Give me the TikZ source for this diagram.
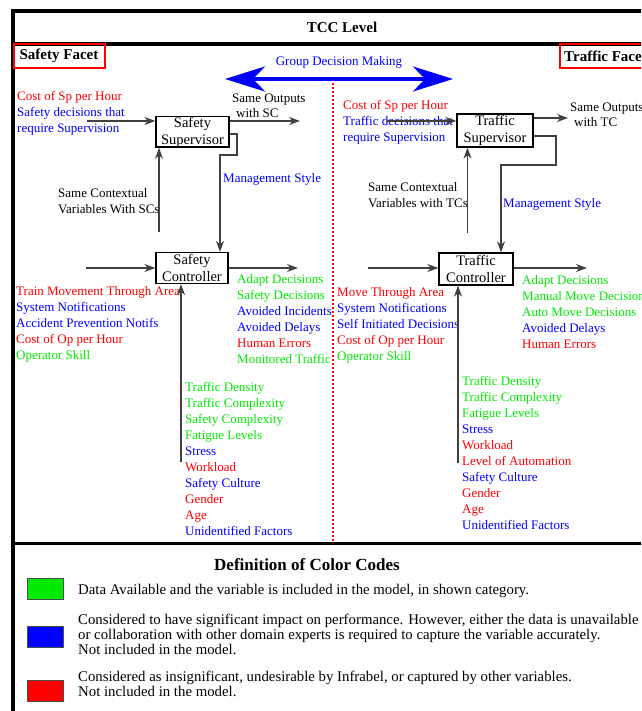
\documentclass[tikz,border=0pt]{standalone}
\usepackage{fontspec}
\setmainfont{Liberation Serif}
\usetikzlibrary{arrows.meta}
\definecolor{cgreen}{RGB}{0,235,0}
\definecolor{cblue}{RGB}{0,0,255}
\definecolor{cred}{RGB}{255,0,0}
\newcommand{\gr}[1]{\textcolor{cgreen}{#1}}
\newcommand{\bl}[1]{\textcolor{cblue}{#1}}
\newcommand{\rd}[1]{\textcolor{cred}{#1}}
\tikzset{bigtip/.tip={Stealth[length=40pt,width=25pt,inset=12pt]}}
\begin{document}
\begin{tikzpicture}[x=1pt,y=-1pt,
  frame/.style={line width=3.5pt,line join=miter},
  txt/.style={inner sep=0pt,anchor=north west,align=left,font=\fontsize{13}{16}\selectfont},
  legtxt/.style={inner sep=0pt,anchor=north west,align=left,font=\fontsize{14.8}{15}\selectfont},
  box/.style={draw,line width=1.3pt,inner sep=0pt,align=center,font=\fontsize{14.5}{17}\selectfont},
  arr/.style={draw=black!75,line width=1.1pt,-{Stealth[length=11pt,width=8pt,inset=3.5pt]}},
  facet/.style={draw=cred,line width=2pt,inner sep=0pt,anchor=north west,minimum width=91pt,minimum height=24pt,font=\fontsize{15}{17}\selectfont\bfseries},
  swatch/.style={draw=black!70,line width=0.6pt,anchor=north west,minimum width=36pt,minimum height=21pt,inner sep=0pt}
]
\useasboundingbox (0,0) rectangle (641,711);
\clip (0,0) rectangle (641,711);

% outer frame and dividers
\draw[frame] (13,760) |- (700,11);
\draw[frame] (13,44) -- (700,44);
\draw[frame] (13,543.5) -- (700,543.5);
\draw[cred,line width=1.1pt,dash pattern=on 2pt off 2pt] (333,83) -- (333,541);

\node[font=\fontsize{15}{17}\selectfont\bfseries] (title) at (342,27) {TCC Level};
\node[facet] (sfacet) at (12.5,43) {Safety Facet};
\node[facet] (tfacet) at (559,43) {Traffic Facet};

% group decision making
\node[font=\fontsize{13}{16}\selectfont,text=cblue] (gdm) at (339,62) {Group Decision Making};
\coordinate (gdl) at (225,79);
\coordinate (gdr) at (453,79);
\draw[cblue,line width=4pt,{bigtip}-{bigtip}] (gdl) -- (gdr);

% ---------- safety facet ----------
\node[box,minimum width=73pt,minimum height=30pt] (ssup) at (192.5,132) {Safety\\Supervisor};
\node[box,minimum width=72pt,minimum height=31pt] (sctl) at (192,268) {Safety\\Controller};

\node[txt] (sspin) at (17,91.5) {\rd{Cost of Sp per Hour}\\\bl{Safety decisions that}\\\bl{require Supervision}};
\node[txt,font=\fontsize{13}{15}\selectfont] (sout) at (232,93.5) {Same Outputs\\\hspace*{4pt}with SC};
\node[txt] (sctx) at (58,188.5) {Same Contextual\\Variables With SCs};
\node[txt,text=cblue] (sms) at (223,173.5) {Management Style};
\node[txt] (sleft) at (16,286.5) {\rd{Train Movement Through Area}\\\bl{System Notifications}\\\bl{Accident Prevention Notifs}\\\rd{Cost of Op per Hour}\\\gr{Operator Skill}};
\node[txt] (sright) at (237,274.5) {\gr{Adapt Decisions}\\\gr{Safety Decisions}\\\bl{Avoided Incidents}\\\bl{Avoided Delays}\\\rd{Human Errors}\\\gr{Monitored Traffic}};
\node[txt] (sbottom) at (185,382.5) {\gr{Traffic Density}\\\gr{Traffic Complexity}\\\gr{Safety Complexity}\\\gr{Fatigue Levels}\\\bl{Stress}\\\rd{Workload}\\\bl{Safety Culture}\\\rd{Gender}\\\rd{Age}\\\bl{Unidentified Factors}};

\coordinate (ssupin) at (87,121);
\coordinate (ssupout) at (300,121);
\coordinate (ssupctx) at (159,232);
\coordinate (sms1) at (237,134);
\coordinate (sms2) at (237,155);
\coordinate (sms3) at (220,155);
\coordinate (sctlin) at (86,268);
\coordinate (sctlout) at (298,268);
\coordinate (sctlctx) at (181,462);

\draw[arr] (ssupin) -- (ssupin -| ssup.west);
\draw[arr] (ssupout -| ssup.east) -- (ssupout);
\draw[arr] (ssupctx) -- (ssupctx |- ssup.south);
\draw[arr] (sms1 -| ssup.east) -- (sms1) -- (sms2) -- (sms3) -- (sms3 |- sctl.north);
\draw[arr] (sctlin) -- (sctlin -| sctl.west);
\draw[arr] (sctlout -| sctl.east) -- (sctlout);
\draw[arr] (sctlctx) -- (sctlctx |- sctl.south);

% ---------- traffic facet ----------
\node[box,minimum width=76pt,minimum height=33pt] (tsup) at (495,130.5) {Traffic\\Supervisor};
\node[box,minimum width=74pt,minimum height=32pt] (tctl) at (476,269) {Traffic\\Controller};

\node[txt] (tspin) at (343,100.5) {\rd{Cost of Sp per Hour}\\\bl{Traffic decisions that}\\\bl{require Supervision}};
\node[txt,font=\fontsize{13}{15}\selectfont] (tout) at (570,102.5) {Same Outputs\\\hspace*{4pt}with TC};
\node[txt] (tctx) at (368,182.5) {Same Contextual\\Variables with TCs};
\node[txt,text=cblue] (tms) at (503,198.5) {Management Style};
\node[txt] (tleft) at (337,287.5) {\rd{Move Through Area}\\\bl{System Notifications}\\\bl{Self Initiated Decisions}\\\rd{Cost of Op per Hour}\\\gr{Operator Skill}};
\node[txt] (tright) at (522,275.5) {\gr{Adapt Decisions}\\\gr{Manual Move Decisions}\\\gr{Auto Move Decisions}\\\bl{Avoided Delays}\\\rd{Human Errors}};
\node[txt] (tbottom) at (462,376.5) {\gr{Traffic Density}\\\gr{Traffic Complexity}\\\gr{Fatigue Levels}\\\bl{Stress}\\\rd{Workload}\\\rd{Level of Automation}\\\bl{Safety Culture}\\\rd{Gender}\\\rd{Age}\\\bl{Unidentified Factors}};

\coordinate (tsupin) at (387,121);
\coordinate (tsupout) at (568,118);
\coordinate (tsupctx) at (467.5,233);
\coordinate (tms1) at (556,136);
\coordinate (tms2) at (556,165);
\coordinate (tms3) at (501,165);
\coordinate (tctlin) at (368,268);
\coordinate (tctlout) at (587,268);
\coordinate (tctlctx) at (458,463);

\draw[arr] (tsupin) -- (tsupin -| tsup.west);
\draw[arr] (tsupout -| tsup.east) -- (tsupout);
\draw[arr] (tsupctx) -- (tsupctx |- tsup.south);
\draw[arr] (tms1 -| tsup.east) -- (tms1) -- (tms2) -- (tms3) -- (tms3 |- tctl.north);
\draw[arr] (tctlin) -- (tctlin -| tctl.west);
\draw[arr] (tctlout -| tctl.east) -- (tctlout);
\draw[arr] (tctlctx) -- (tctlctx |- tctl.south);

% ---------- colour legend ----------
\node[font=\fontsize{17}{19}\selectfont\bfseries] (legtitle) at (307,565) {Definition of Color Codes};
\node[swatch,fill=cgreen] (kgreen) at (27,578) {};
\node[swatch,fill=cblue] (kblue) at (27,626) {};
\node[swatch,fill=cred] (kred) at (27,680) {};
\node[legtxt] (lgreen) at (78,584.5) {Data Available and the variable is included in the model, in shown category.};
\node[legtxt] (lblue) at (78,614) {Considered to have significant impact on performance. However, either the data is unavailable\\or collaboration with other domain experts is required to capture the variable accurately.\\Not included in the model.};
\node[legtxt] (lred) at (78,671) {Considered as insignificant, undesirable by Infrabel, or captured by other variables.\\Not included in the model.};
\end{tikzpicture}
\end{document}
